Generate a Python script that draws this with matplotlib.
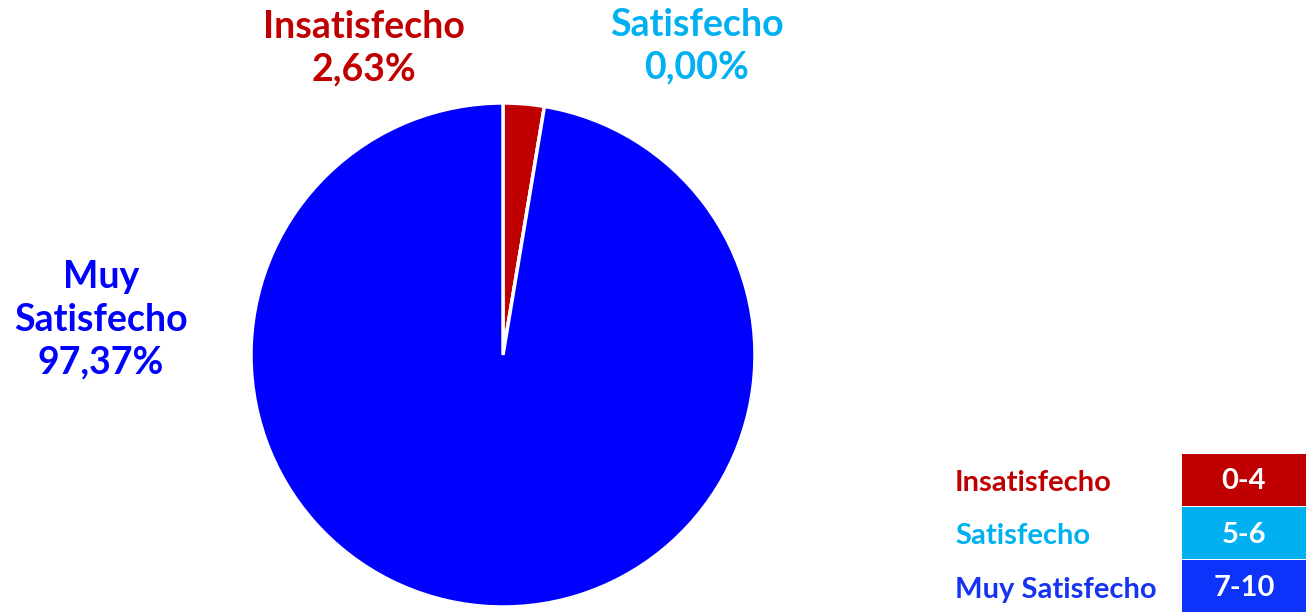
import matplotlib
matplotlib.use('Agg')
import matplotlib.pyplot as plt

# Data
categories = ['Insatisfecho', 'Satisfecho', 'Muy Satisfecho']
percentages = [2.63, 0.00, 97.37]
colors = ['#C00000', '#00B0F0', '#0000FF']
ranges = ['0-4', '5-6', '7-10']
legend_cell_colors = ['#C00000', '#00B0F0', '#0D33FA']
legend_text_colors = ['#C00000', '#00B0F0', '#1533F0']

plt.rcParams['font.family'] = ['Lato', 'DejaVu Sans']
plt.rcParams['font.weight'] = 'bold'

W, H = 1310, 613
fig = plt.figure(figsize=(W / 100, H / 100), dpi=100)

# Pie: centre (503, 355) px, radius 252 px
cx, cy, r = 503, 355, 252
ax = fig.add_axes([(cx - r) / W, (H - cy - r) / H, 2 * r / W, 2 * r / H])
ax.pie(percentages, colors=colors, startangle=90, counterclock=False,
       wedgeprops=dict(edgecolor='white', linewidth=2.5))
ax.set_xlim(-1, 1)
ax.set_ylim(-1, 1)
ax.set_aspect('auto')
ax.axis('off')

# Data labels
def fmt(v):
    return f'{v:.2f}'.replace('.', ',') + '%'

label_pos = {
    'Insatisfecho': (364, 48, 'Insatisfecho'),
    'Satisfecho': (697, 46, 'Satisfecho'),
    'Muy Satisfecho': (101, 320, 'Muy\nSatisfecho'),
}
for cat, val, col in zip(categories, percentages, colors):
    x, y, txt = label_pos[cat]
    fig.text(x / W, 1 - y / H, f'{txt}\n{fmt(val)}', color=col, fontsize=27,
             ha='center', va='center', fontweight='bold', linespacing=1.32)

# Legend table
lax = fig.add_axes([940 / W, 0, 370 / W, 160 / H])
lax.set_xlim(940, 1310)
lax.set_ylim(len(categories) - 0.5, -0.5)
lax.axis('off')
rows = range(len(categories))
lax.barh(list(rows), [124] * len(categories), left=1182, height=0.98,
         color=legend_cell_colors)
for i, (cat, rg) in enumerate(zip(categories, ranges)):
    lax.text(955, i + 0.06, cat, color=legend_text_colors[i], fontsize=21,
             ha='left', va='center', fontweight='bold')
    lax.text(1244, i + 0.03, rg, color='white', fontsize=21,
             ha='center', va='center', fontweight='bold')

fig.savefig('out.png', dpi=100)
